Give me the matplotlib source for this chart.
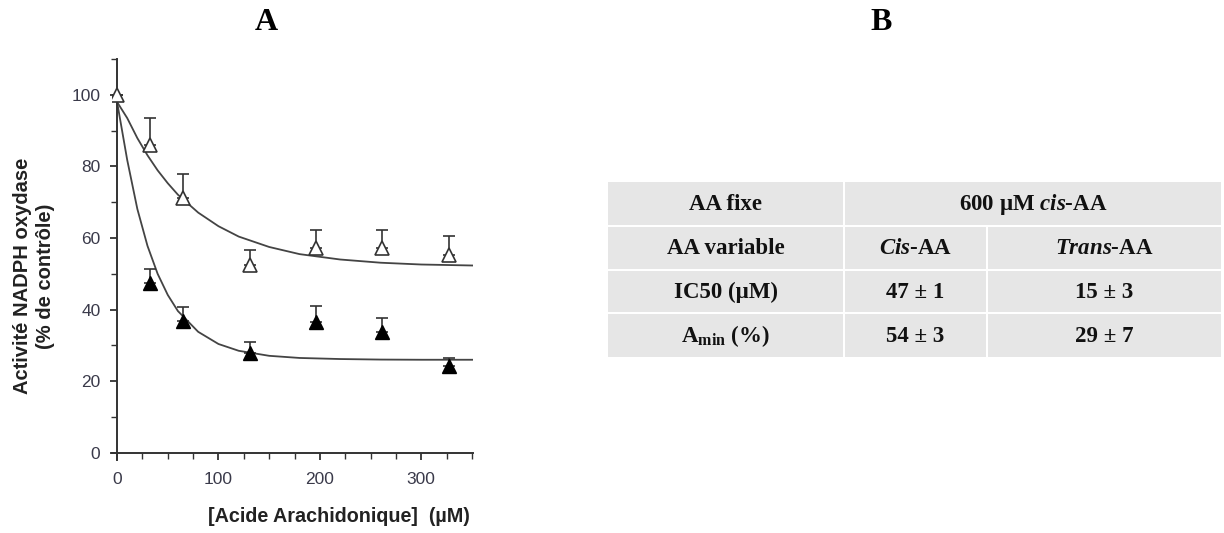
import matplotlib
matplotlib.use("Agg")
import matplotlib.pyplot as plt
from matplotlib.patches import Rectangle

# ---------------- data ----------------
conc = [0, 32.7, 65.4, 130.8, 196.2, 261.6, 327]
cis_mean = [100, 86.0, 71.1, 52.5, 57.1, 57.1, 55.3]
cis_err = [0, 7.6, 6.8, 4.2, 5.2, 5.2, 5.3]
trans_mean = [100, 47.5, 36.7, 27.8, 36.6, 33.8, 24.2]
trans_err = [0, 3.9, 4.1, 3.2, 4.4, 3.9, 2.3]

fit_x = [0, 10, 20, 30, 40, 50, 60, 80, 100, 120, 150, 180, 220, 260, 300, 355]
cis_fit = [98, 93.5, 87.9, 83.1, 78.9, 75.3, 72.1, 67.1, 63.3, 60.4, 57.5, 55.5, 54.0, 53.1, 52.6, 52.3]
trans_fit = [98, 81.8, 68.1, 57.8, 50.0, 44.1, 39.6, 33.8, 30.4, 28.5, 27.1, 26.5, 26.2, 26.05, 26.0, 26.0]

x_ticks = [0, 100, 200, 300]
y_ticks = [0, 20, 40, 60, 80, 100]

table_rows = [
    ["AA fixe", r"600 µM $\mathit{cis}$-AA", None],
    ["AA variable", r"$\mathit{Cis}$-AA", r"$\mathit{Trans}$-AA"],
    ["IC50 (µM)", "47 ± 1", "15 ± 3"],
    [r"A$_{\mathrm{min}}$ (%)", "54 ± 3", "29 ± 7"],
]

# ---------------- style ----------------
plt.rcParams["mathtext.fontset"] = "custom"
plt.rcParams["mathtext.rm"] = "Liberation Serif:bold"
plt.rcParams["mathtext.it"] = "Liberation Serif:italic:bold"
plt.rcParams["mathtext.bf"] = "Liberation Serif:bold"

W, H = 1224, 533
fig = plt.figure(figsize=(W / 100, H / 100), dpi=100)

# ---------------- panel A ----------------
ax_l, ax_r, ax_b, ax_t = 112, 473, 460, 59
ax = fig.add_axes([ax_l / W, 1 - ax_b / H, (ax_r - ax_l) / W, (ax_b - ax_t) / H])
ax.set_xlim(-5, 351)
ax.set_ylim(-2, 110)
for s in ["top", "right"]:
    ax.spines[s].set_visible(False)
ax.spines["left"].set_position(("data", 0))
ax.spines["bottom"].set_position(("data", 0))
for s in ["left", "bottom"]:
    ax.spines[s].set_color("#333333")
    ax.spines[s].set_linewidth(1.4)

ax.plot(fit_x, cis_fit, color="#444444", lw=1.3, zorder=2)
ax.plot(fit_x, trans_fit, color="#444444", lw=1.3, zorder=2)

ax.errorbar(conc, cis_mean, yerr=[[0] * len(cis_err), cis_err], fmt="^", ms=9.5,
            mfc="white", mec="#333333", mew=1.2, ecolor="#333333", elinewidth=1.2,
            capsize=4.5, capthick=1.2, zorder=3)
ax.errorbar(conc[1:], trans_mean[1:], yerr=[[0] * (len(trans_err) - 1), trans_err[1:]],
            fmt="^", ms=9.5, mfc="black", mec="black", ecolor="#333333", elinewidth=1.2,
            capsize=4.5, capthick=1.2, zorder=3)

ax.set_xticks(x_ticks)
ax.set_yticks(y_ticks)
ax.set_xticks(list(range(0, 351, 25)), minor=True)
ax.set_yticks(list(range(0, 111, 10)), minor=True)
ax.tick_params(axis="both", which="major", direction="out", length=5, width=1.3,
               colors="#333333", labelsize=12.5)
ax.tick_params(axis="both", which="minor", direction="out", length=4, width=1.0, colors="#333333")
ax.tick_params(axis="x", pad=9)
ax.tick_params(axis="y", pad=7)
for lbl in ax.get_xticklabels() + ax.get_yticklabels():
    lbl.set_family("Liberation Sans")
    lbl.set_color("#3a3a4a")

fig.text(34 / W, 1 - 276 / H, "Activité NADPH oxydase\n(% de contrôle)", rotation=90,
         ha="center", va="center", family="Liberation Sans", fontweight="bold",
         fontsize=14.5, color="#222222", linespacing=1.25)
fig.text(339 / W, 1 - 517 / H, "[Acide Arachidonique]  (µM)", ha="center", va="center",
         family="Liberation Sans", fontweight="bold", fontsize=14.2, color="#222222")

fig.text(266 / W, 1 - 22 / H, "A", ha="center", va="center", family="Liberation Serif",
         fontweight="bold", fontsize=23)
fig.text(881 / W, 1 - 22 / H, "B", ha="center", va="center", family="Liberation Serif",
         fontweight="bold", fontsize=23)

# ---------------- panel B (table) ----------------
col_edges = [607, 844, 987, 1222]
row_edges = [181, 226, 270, 313, 358]
tax = fig.add_axes([0, 0, 1, 1])
tax.set_xlim(0, W)
tax.set_ylim(H, 0)
tax.axis("off")
bg = "#e6e6e6"
gap = 1.0
for r, row in enumerate(table_rows):
    y0, y1 = row_edges[r], row_edges[r + 1]
    c = 0
    while c < 3:
        text = row[c]
        span = 1
        if c == 1 and row[2] is None:
            span = 2
        x0, x1 = col_edges[c], col_edges[c + span]
        tax.add_patch(Rectangle((x0 + gap, y0 + gap), x1 - x0 - 2 * gap, y1 - y0 - 2 * gap,
                                facecolor=bg, edgecolor="none"))
        tax.text((x0 + x1) / 2, (y0 + y1) / 2 + 1, text, ha="center", va="center",
                 family="Liberation Serif", fontweight="bold", fontsize=16.5, color="#111111")
        c += span

fig.savefig("out.png", dpi=100)
